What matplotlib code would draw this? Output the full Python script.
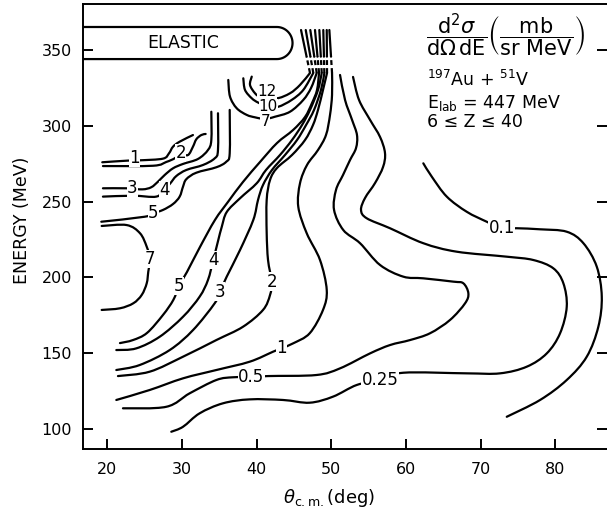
import numpy as np
import matplotlib
matplotlib.use("Agg")
import matplotlib.pyplot as plt
from matplotlib.path import Path
from matplotlib.patches import PathPatch

plt.rcParams['font.family'] = ['DejaVu Sans']
plt.rcParams['mathtext.fontset'] = 'dejavusans'

# contour lines: (theta_cm [deg], energy [MeV])
# upper left group
c1_ul_t = [19.33, 22.77, 24.42, 27.46, 28.26, 28.80, 29.69, 31.47]
c1_ul_e = [276.1, 277.2, 277.4, 278.5, 282.0, 286.4, 289.7, 294.1]
c2_ul_t = [19.42, 26.12, 27.90, 29.02, 29.77, 30.81, 31.47, 31.92, 32.59, 33.17]
c2_ul_e = [273.6, 273.8, 276.3, 278.7, 281.5, 280.9, 286.4, 291.3, 294.1, 294.8]
c3_ul_t = [19.42, 22.54, 24.69, 25.89, 26.79, 27.69, 28.80, 30.14, 32.15, 33.48, 33.93, 33.93]
c3_ul_e = [258.9, 258.9, 258.2, 259.6, 263.3, 267.7, 272.1, 275.0, 278.3, 284.2, 290.8, 309.5]
c4_ul_t = [19.42, 23.44, 26.56, 27.69, 28.44, 29.24, 30.58, 32.81, 34.38, 34.82, 34.82]
c4_ul_e = [253.4, 254.0, 253.4, 258.2, 262.2, 267.0, 271.0, 274.3, 278.7, 284.2, 308.5]
c5_ul_t = [19.20, 25.00, 26.12, 27.46, 28.80, 29.69, 30.14, 30.58, 31.92, 34.60, 35.94, 36.39, 36.39]
c5_ul_e = [236.8, 240.1, 242.4, 244.6, 248.5, 253.4, 260.0, 264.9, 269.2, 272.8, 276.5, 282.0, 310.7]
c7_ul_t = [19.25, 22.60, 24.38, 25.28, 25.72, 25.49, 25.28, 24.61, 23.48, 21.70, 19.25]
c7_ul_e = [234.0, 234.6, 229.2, 220.3, 212.0, 203.8, 196.1, 188.4, 182.9, 179.6, 178.5]

# arcs below the elastic peak (they run into the bundle)
a12_t = [39.34, 39.11, 39.78, 40.45, 41.34, 42.68, 44.46, 45.80, 47.14, 45.94]
a12_e = [332.7, 327.2, 321.7, 319.5, 321.2, 318.4, 321.7, 327.2, 335.1, 363.5]
a10_t = [38.21, 38.44, 39.34, 40.22, 41.56, 42.90, 44.69, 46.24, 47.58, 46.57]
a10_e = [331.6, 323.9, 318.4, 315.5, 312.8, 312.8, 317.3, 323.9, 335.1, 363.5]
a7_t = [36.20, 36.43, 37.33, 38.67, 39.78, 41.12, 42.45, 44.46, 46.24, 47.28, 48.04, 47.18]
a7_e = [330.5, 319.5, 311.8, 307.4, 305.8, 304.7, 306.2, 309.5, 317.3, 325.2, 335.1, 363.5]

# sweeping contours
c5_t = [21.70, 23.44, 25.32, 27.46, 28.84, 29.60, 30.67, 32.41, 34.42, 36.16, 38.17,
        40.45, 42.72, 44.87, 46.47, 47.41, 48.08, 48.35, 47.81]
c5_e = [156.6, 158.6, 163.3, 175.2, 185.1, 194.3, 203.6, 220.1, 238.0, 249.9, 263.1,
        276.3, 288.8, 297.4, 306.0, 315.3, 323.9, 335.1, 363.5]
c4_t = [21.21, 23.88, 27.02, 30.14, 32.37, 33.48, 34.19, 34.86, 35.32, 35.99, 37.77,
        40.00, 41.25, 43.12, 44.73, 46.07, 47.14, 48.21, 48.71, 48.39]
c4_e = [152.0, 153.1, 160.8, 174.0, 187.3, 198.3, 211.5, 224.7, 233.3, 243.2, 252.3,
        262.2, 271.0, 280.9, 290.8, 300.7, 310.7, 323.9, 335.1, 363.5]
c3_t = [21.21, 24.34, 28.36, 31.48, 34.38, 35.09, 35.99, 37.77, 39.55, 40.18, 40.85,
        42.05, 43.79, 45.40, 46.61, 47.68, 48.61, 49.06, 48.92]
c3_e = [138.8, 142.1, 152.0, 165.2, 182.9, 190.6, 200.5, 218.1, 238.0, 251.2, 261.1,
        271.0, 280.9, 290.8, 300.7, 310.7, 323.9, 335.1, 363.5]
c2_t = [21.43, 25.68, 30.14, 34.60, 38.17, 40.85, 41.79, 42.01, 41.52, 41.34, 41.34,
        41.79, 42.72, 44.73, 46.47, 47.54, 48.21, 48.88, 49.42, 49.38]
c2_e = [134.8, 137.7, 147.6, 158.6, 167.4, 178.5, 188.4, 197.2, 211.5, 229.4, 251.2,
        264.4, 272.3, 280.9, 290.8, 300.7, 310.7, 323.9, 335.1, 363.5]
c1_t = [21.21, 25.68, 30.14, 34.60, 39.07, 42.19, 43.30, 44.87, 47.10, 48.88, 49.38,
        48.48, 46.70, 45.57, 45.80, 46.74, 48.21, 49.28, 49.82, 50.09, 50.09, 49.73]
c1_e = [119.0, 125.6, 133.3, 138.8, 144.3, 150.9, 153.1, 156.4, 163.1, 178.5, 191.7,
        211.5, 229.2, 246.7, 262.2, 274.3, 284.2, 294.1, 307.4, 320.6, 335.1, 363.5]
c05_t = [22.10, 27.90, 31.03, 34.60, 36.83, 39.28, 41.52, 47.99, 51.16, 55.18, 57.85,
         60.53, 63.21, 65.89, 67.90, 68.34, 67.67, 66.33, 62.31, 59.63, 56.52, 53.84,
         51.60, 50.36, 50.62, 51.56, 52.50, 53.30, 53.43, 52.77, 51.83, 51.16]
c05_e = [113.5, 114.5, 123.4, 132.2, 134.0, 134.0, 134.8, 135.5, 139.9, 149.8, 155.3,
         158.6, 163.1, 171.9, 182.9, 189.5, 196.1, 197.2, 199.4, 200.5, 208.2, 222.6,
         231.3, 244.6, 257.8, 267.7, 277.6, 285.5, 294.1, 304.1, 317.3, 333.8]
c025_t = [28.57, 30.14, 32.37, 35.49, 39.07, 43.53, 47.10, 50.22, 53.39, 56.52, 59.63,
          68.12, 72.58, 76.16, 78.84, 80.62, 81.51, 81.06, 79.72, 77.04, 73.48, 66.78,
          62.31, 57.85, 54.73, 53.97, 54.51, 55.85, 56.92, 57.18, 56.52, 55.18, 53.70, 52.90]
c025_e = [98.0, 101.3, 110.2, 116.8, 119.4, 119.0, 117.2, 121.2, 128.9, 132.2, 137.0,
          136.6, 136.6, 141.0, 149.8, 163.1, 180.6, 196.1, 206.0, 211.5, 213.7, 217.0,
          222.6, 232.5, 239.1, 244.6, 252.5, 262.4, 273.0, 282.2, 292.8, 304.1, 317.3, 332.5]
c01_t = [62.31, 63.44, 65.45, 68.12, 70.80, 72.81, 74.82, 77.94, 81.51, 83.74, 85.53,
         86.20, 85.74, 84.19, 81.51, 77.94, 73.48]
c01_e = [275.4, 266.6, 253.4, 243.4, 236.8, 232.5, 232.5, 231.8, 230.2, 222.6, 207.1,
         187.3, 167.4, 147.6, 132.2, 119.0, 107.9]

# contour labels: text, theta, energy
lab_txt = ['1', '2', '3', '4', '5', '7', '12', '10', '7',
           '5', '4', '3', '2', '1', '0.5', '0.25', '0.1']
lab_t = [23.65, 29.85, 23.35, 27.65, 26.15, 25.70, 41.35, 41.56, 41.15,
         29.60, 34.19, 35.09, 42.01, 43.30, 39.28, 56.52, 72.81]
lab_e = [279.0, 282.4, 259.4, 257.6, 242.4, 212.0, 322.8, 312.8, 302.8,
         194.3, 211.5, 190.6, 197.2, 153.1, 134.0, 132.2, 232.5]

# elastic band
el_lo, el_hi, el_right = 344.3, 365.5, 44.8

fig = plt.figure(figsize=(6.07, 5.18), dpi=100)
ax = fig.add_axes([83 / 607, 1 - 449 / 518, 524 / 607, 445 / 518])
ax.set_xlim(16.75, 86.9)
ax.set_ylim(86.6, 380.7)

lw = 1.6
kw = dict(color='black', lw=lw, solid_capstyle='round')


def smooth(t, e):
    # Catmull-Rom through the read points, drawn as cubic Bezier segments
    p = np.column_stack([t, e])
    if len(p) < 3:
        ax.plot(p[:, 0], p[:, 1], **kw)
        return
    ext = np.vstack([p[0], p, p[-1]])
    verts = [p[0]]
    codes = [Path.MOVETO]
    for i in range(1, len(ext) - 2):
        c1 = ext[i] + (ext[i + 1] - ext[i - 1]) / 6
        c2 = ext[i + 1] - (ext[i + 2] - ext[i]) / 6
        verts += [c1, c2, ext[i + 1]]
        codes += [Path.CURVE4] * 3
    ax.add_patch(PathPatch(Path(verts, codes), fill=False, edgecolor='black',
                           lw=lw, capstyle='round', joinstyle='round'))


def draw(t, e, bundle=False):
    t = np.asarray(t)
    e = np.asarray(e)
    if not bundle:
        smooth(t, e)
        return
    smooth(t[:-1], e[:-1])
    e_mid = 345.9
    t_mid = np.interp(e_mid, e[-2:], t[-2:])
    ax.plot([t[-2], t_mid], [e[-2], e_mid], color='black', lw=lw, dashes=(2.2, 1.4))
    ax.plot([t_mid, t[-1]], [e_mid, e[-1]], **kw)


for t, e in [(c1_ul_t, c1_ul_e), (c2_ul_t, c2_ul_e), (c3_ul_t, c3_ul_e),
             (c4_ul_t, c4_ul_e), (c5_ul_t, c5_ul_e), (c7_ul_t, c7_ul_e),
             (c05_t, c05_e), (c025_t, c025_e), (c01_t, c01_e)]:
    draw(t, e)

for t, e in [(a12_t, a12_e), (a10_t, a10_e), (a7_t, a7_e), (c5_t, c5_e),
             (c4_t, c4_e), (c3_t, c3_e), (c2_t, c2_e), (c1_t, c1_e)]:
    draw(t, e, bundle=True)

for s, t, e in zip(lab_txt, lab_t, lab_e):
    small = s in ('12', '10') or (s == '7' and t > 40)
    ax.text(t, e, s, fontsize=11 if small else 12, ha='center', va='center',
            bbox=dict(facecolor='white', edgecolor='none', pad=0.15))

# elastic box with rounded right end
ry = (el_hi - el_lo) / 2
rx = 2.1
ang = np.linspace(np.pi / 2, -np.pi / 2, 40)
bx = np.concatenate([[10], el_right - rx + rx * np.cos(ang), [10]])
by = np.concatenate([[el_hi], (el_lo + el_hi) / 2 + ry * np.sin(ang), [el_lo]])
ax.plot(bx, by, **kw)
ax.text(30.1, 355.0, 'ELASTIC', fontsize=12.5, ha='center', va='center')

ax.set_xticks([20, 30, 40, 50, 60, 70, 80])
ax.set_yticks([100, 150, 200, 250, 300, 350])
ax.tick_params(direction='in', length=7, width=1.4, labelsize=11.5, right=True,
               top=False, pad=9)
ax.tick_params(axis='y', pad=8)
for sp in ['left', 'bottom', 'top']:
    ax.spines[sp].set_linewidth(1.4)
ax.spines['right'].set_visible(False)

ax.set_ylabel('ENERGY (MeV)', fontsize=12.5)
ax.yaxis.set_label_coords(-0.10, 0.515)
ax.set_xlabel(r'$\theta_{\mathrm{c.m.}}$(deg)', fontsize=13)
ax.xaxis.set_label_coords(0.47, -0.085)

fig.text(0.702, 0.932,
         r'$\dfrac{\mathrm{d}^2\sigma}{\mathrm{d}\Omega\,\mathrm{dE}}'
         r'\left(\dfrac{\mathrm{mb}}{\mathrm{sr\ MeV}}\right)$',
         fontsize=15, ha='left', va='center')
fig.text(0.703, 0.845, r'$^{197}$Au + $^{51}$V', fontsize=12.5, ha='left', va='center')
fig.text(0.703, 0.802, r'E$_{\mathrm{lab}}$ = 447 MeV', fontsize=12.5, ha='left', va='center')
fig.text(0.703, 0.764, '6 ≤ Z ≤ 40', fontsize=12.5, ha='left', va='center')

fig.savefig('out.png', dpi=100, facecolor='white')
